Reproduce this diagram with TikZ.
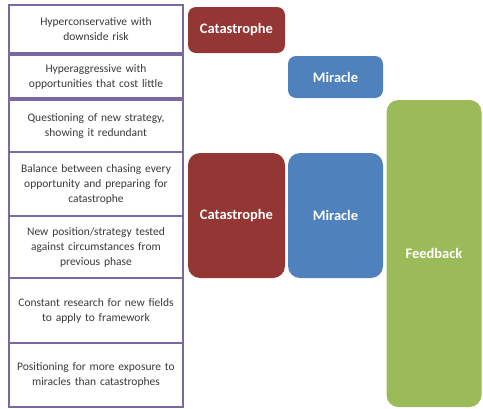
\documentclass[tikz,border=0pt]{standalone}
\usepackage{fontspec}
\setmainfont{Carlito}
\definecolor{cred}{HTML}{943634}
\definecolor{cblue}{HTML}{4F81BD}
\definecolor{cgreen}{HTML}{9BBB59}
\definecolor{cpurple}{HTML}{7A68A0}
\definecolor{ctext}{HTML}{3A3A3A}
\begin{document}
\begin{tikzpicture}[x=1pt,y=-1pt,
  phase/.style={draw=cpurple,line width=1.2pt,fill=white,inner sep=0pt,
    align=center,text=ctext,font=\fontsize{11.5}{15}\selectfont,text width=170pt},
  blk/.style={rounded corners=#1,inner sep=0pt,text=white,
    font=\fontsize{14.5}{16}\selectfont\bfseries},
  blk/.default=8pt]
\useasboundingbox (0,0) rectangle (483,408);
% left column
\node[phase,minimum width=174pt,minimum height=48pt] (p1) at (96,29) {Hyperconservative with\\downside risk};
\node[phase,minimum width=174pt,minimum height=43pt] (p2) at (96,76.5) {Hyperaggressive with\\opportunities that cost little};
\node[phase,minimum width=174pt,minimum height=52pt] (p3) at (96,126) {Questioning of new strategy,\\showing it redundant};
\node[phase,minimum width=174pt,minimum height=64pt] (p4) at (96,184) {Balance between chasing every\\opportunity and preparing for\\catastrophe};
\node[phase,minimum width=174pt,minimum height=62pt] (p5) at (96,247) {New position/strategy tested\\against circumstances from\\previous phase};
\node[phase,minimum width=174pt,minimum height=65pt] (p6) at (96,310.5) {Constant research for new fields\\to apply to framework};
\node[phase,minimum width=174pt,minimum height=64pt] (p7) at (96,375) {Positioning for more exposure to\\miracles than catastrophes};
% coloured blocks
\node[blk,fill=cred,minimum width=97pt,minimum height=46pt] (c1) at (236.5,30) {Catastrophe};
\node[blk,fill=cblue,minimum width=95pt,minimum height=42pt] (m1) at (335.5,77) {Miracle};
\node[blk=12pt,fill=cred,minimum width=97pt,minimum height=125pt] (c2) at (236.5,215.5) {Catastrophe};
\node[blk=12pt,fill=cblue,minimum width=95pt,minimum height=125pt] (m2) at (335.5,215.5) {Miracle};
\node[blk=12pt,fill=cgreen,minimum width=95pt,minimum height=307pt] (fb) at (434,253.5) {Feedback};
\end{tikzpicture}
\end{document}
